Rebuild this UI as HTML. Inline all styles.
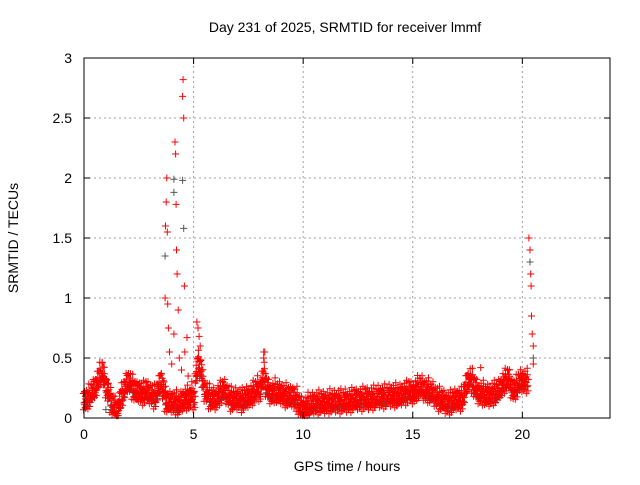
<!DOCTYPE html>
<html><head><meta charset="utf-8"><style>
body{margin:0;background:#fff}
svg text{font-family:"Liberation Sans",sans-serif;font-size:14px;fill:#000}
</style></head><body>
<svg id="c" width="640" height="480" xmlns="http://www.w3.org/2000/svg">
<rect width="640" height="480" fill="#fff"/>
<text x="345" y="32" text-anchor="middle">Day 231 of 2025, SRMTID for receiver lmmf</text>
<text x="347" y="471" text-anchor="middle">GPS time / hours</text>
<text transform="translate(18,238) rotate(-90)" text-anchor="middle">SRMTID / TECUs</text>
<g id="grid"></g><g id="gray"></g><g id="red"></g><g id="axes"></g>
</svg>
<script>
const xTicks=[0,5,10,15,20];
const yTicks=[0,0.5,1,1.5,2,2.5,3];
const yTickLabels=["0","0.5","1","1.5","2","2.5","3"];
// base level every 0.1 h from 0 to 21.0
const baseValues=[0.15,0.14,0.17,0.2,0.22,0.25,0.3,0.35,0.38,0.32,0.25,0.2,0.14,0.1,0.08,0.06,0.12,0.18,0.22,0.27,0.3,0.28,0.25,0.22,0.2,0.22,0.2,0.2,0.22,0.2,0.2,0.18,0.17,0.2,0.25,0.3,0.22,0.15,0.12,0.12,0.13,0.12,0.12,0.1,0.12,0.14,0.15,0.16,0.15,0.2,0.15,0.35,0.45,0.4,0.3,0.22,0.2,0.17,0.15,0.15,0.15,0.18,0.2,0.22,0.22,0.2,0.17,0.15,0.14,0.15,0.15,0.15,0.14,0.15,0.16,0.17,0.18,0.2,0.22,0.25,0.22,0.3,0.35,0.25,0.22,0.2,0.2,0.22,0.2,0.2,0.2,0.18,0.18,0.17,0.16,0.18,0.15,0.15,0.1,0.08,0.07,0.08,0.1,0.1,0.11,0.12,0.12,0.12,0.12,0.12,0.12,0.12,0.13,0.12,0.13,0.13,0.14,0.13,0.13,0.14,0.13,0.13,0.14,0.15,0.14,0.15,0.15,0.15,0.16,0.15,0.15,0.16,0.16,0.16,0.17,0.17,0.16,0.17,0.17,0.18,0.18,0.18,0.18,0.17,0.18,0.19,0.2,0.2,0.22,0.2,0.2,0.22,0.24,0.25,0.25,0.23,0.22,0.22,0.2,0.2,0.18,0.16,0.15,0.14,0.13,0.12,0.12,0.12,0.13,0.14,0.15,0.14,0.15,0.18,0.25,0.3,0.32,0.3,0.25,0.22,0.2,0.2,0.2,0.18,0.18,0.18,0.2,0.2,0.2,0.22,0.25,0.28,0.3,0.32,0.3,0.25,0.22,0.25,0.28,0.3,0.3,0.3,0.3];
const spikeTimes=[3.65,3.7,3.72,3.75,3.78,3.8,3.82,3.85,3.9,4.0,4.1,4.15,4.18,4.2,4.22,4.25,4.3,4.35,4.45,4.5,4.52,4.55,4.58,4.6,4.7,4.75,5.15,5.2,5.25,5.3,5.2,8.2,8.25,20.3,20.35,20.38,20.4,20.42,20.45,20.5,20.5,18.1];
const spikeValues=[0.3,1.0,1.6,1.8,2.0,1.55,0.95,0.75,0.55,0.45,0.7,2.3,2.2,1.78,1.4,1.2,0.9,0.5,0.4,2.68,2.82,2.5,1.1,0.55,0.67,0.35,0.8,0.75,0.68,0.6,0.5,0.5,0.55,1.5,1.4,1.2,1.1,0.85,0.7,0.6,0.45,0.42];
const graySpikeTimes=[4.1,4.1,4.5,4.55,20.35,8.2,1.0,20.5,3.7];
const graySpikeValues=[1.88,1.99,1.98,1.58,1.3,0.55,0.07,0.5,1.35];
const X0=84,X1=610,Y0=418,Y1=58;
const xs=t=>X0+t*(X1-X0)/24, ys=v=>Y0-v*(Y0-Y1)/3;
const NS="http://www.w3.org/2000/svg";
function mk(tag,parent,attrs){const e=document.createElementNS(NS,tag);for(const k in attrs)e.setAttribute(k,attrs[k]);parent.appendChild(e);return e;}
const grid=document.getElementById('grid'),axes=document.getElementById('axes');
xTicks.forEach(t=>{
 if(t>0){const l=mk('line',grid,{x1:xs(t),x2:xs(t),y1:Y0,y2:Y1,stroke:'#a0a0a0','stroke-dasharray':'2,3'});
 
 }
 const tx=mk('text',axes,{x:xs(t),y:Y0+21,'text-anchor':'middle'});tx.textContent=t;
 
 
 mk('line',axes,{x1:xs(t),x2:xs(t),y1:Y0,y2:Y0-6,stroke:'#000'});
 mk('line',axes,{x1:xs(t),x2:xs(t),y1:Y1,y2:Y1+6,stroke:'#000'});
});
yTicks.forEach((v,i)=>{
 if(v>0&&v<3){const l=mk('line',grid,{x1:X0,x2:X1,y1:ys(v),y2:ys(v),stroke:'#a0a0a0','stroke-dasharray':'2,3'});
 
 }
 const tx=mk('text',axes,{x:X0-12,y:ys(v)+5,'text-anchor':'end'});tx.textContent=yTickLabels[i];
 
 
 mk('line',axes,{x1:X0,x2:X0+6,y1:ys(v),y2:ys(v),stroke:'#000'});
 mk('line',axes,{x1:X1,x2:X1-6,y1:ys(v),y2:ys(v),stroke:'#000'});
});
const fr=mk('rect',axes,{x:X0,y:Y1,width:X1-X0,height:Y0-Y1,fill:'none',stroke:'#000'});


let redD='',grayD='';
const plus=(t,v)=>{const x=xs(t),y=ys(v);return `M${(x-3.5).toFixed(1)},${y.toFixed(1)}h7M${x.toFixed(1)},${(y-3.5).toFixed(1)}v7`;};
const off=[[0,0],[0.03,0.06],[0.06,-0.05],[-0.03,0.03],[0.05,-0.02],[0.02,0.09],[0.07,0.02],[-0.02,-0.07]];
baseValues.forEach((v,i)=>{const t=i*0.1;off.forEach((o,k)=>{const jit=((i*7+k*3)%5-2)*0.012;redD+=plus(t+o[0],Math.max(0.02,v+o[1]+jit));});grayD+=plus(t+0.02,Math.max(0.02,v-0.04));});
spikeTimes.forEach((t,i)=>{redD+=plus(t,spikeValues[i]);});
graySpikeTimes.forEach((t,i)=>{grayD+=plus(t,graySpikeValues[i]);});
const g=mk('path',document.getElementById('gray'),{d:grayD,stroke:'#555',fill:'none','stroke-width':1});


const r=mk('path',document.getElementById('red'),{d:redD,stroke:'#ff0000',fill:'none','stroke-width':1});


</script>
</body></html>
